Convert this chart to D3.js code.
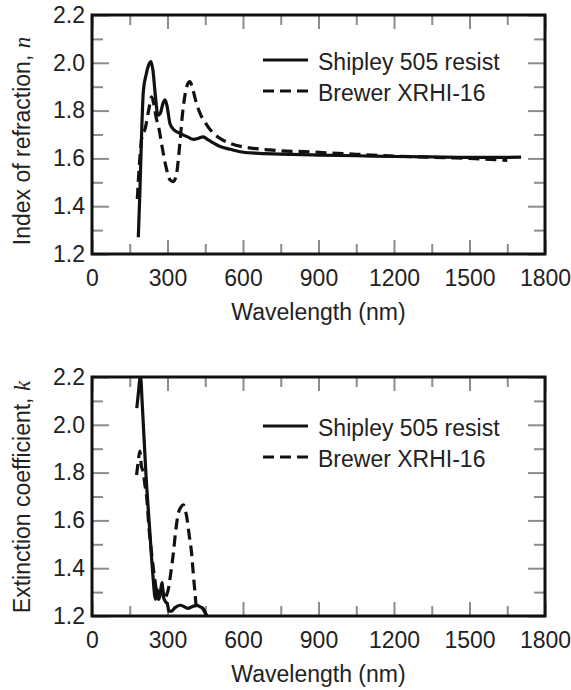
<!DOCTYPE html>
<html>
<head>
<meta charset="utf-8">
<script src="https://cdn.jsdelivr.net/npm/d3@7"></script>
<style>
  body { margin: 0; background: #fff; }
  text { font-family: "Liberation Sans", Arial, Helvetica, sans-serif; fill: #222; }
</style>
</head>
<body>
<div id="chart"></div>
<script>
// data (wavelength in nm)
const shipley_n_wl = [184, 190, 197, 204, 215, 225, 234, 242, 252, 262, 272, 282, 290, 298, 310, 325, 350, 380, 403, 425, 441, 465, 509, 550, 588, 650, 747, 900, 1050, 1200, 1350, 1500, 1600, 1705]
const shipley_n = [1.27, 1.45, 1.70, 1.88, 1.95, 1.99, 2.005, 1.97, 1.86, 1.78, 1.79, 1.83, 1.845, 1.82, 1.745, 1.72, 1.705, 1.69, 1.68, 1.685, 1.69, 1.675, 1.65, 1.638, 1.628, 1.622, 1.618, 1.614, 1.611, 1.608, 1.606, 1.604, 1.604, 1.605]

const brewer_n_wl = [180, 190, 200, 210, 225, 237, 245, 255, 265, 280, 295, 310, 323, 335, 348, 360, 372, 382, 389, 398, 410, 429, 450, 482, 515, 548, 600, 641, 700, 747, 850, 1000, 1200, 1400, 1500, 1600, 1650]
const brewer_n = [1.43, 1.60, 1.70, 1.72, 1.80, 1.858, 1.83, 1.77, 1.73, 1.64, 1.56, 1.51, 1.503, 1.53, 1.65, 1.79, 1.88, 1.915, 1.921, 1.90, 1.85, 1.789, 1.75, 1.705, 1.68, 1.663, 1.648, 1.642, 1.636, 1.632, 1.628, 1.62, 1.61, 1.603, 1.60, 1.595, 1.592]

const shipley_k_wl = [178, 184, 190, 193, 200, 214, 230, 242, 252, 260, 266, 272, 278, 284, 292, 300, 305, 315, 330, 350, 365, 380, 400, 416, 430, 442, 450, 456]
const shipley_k = [2.07, 2.13, 2.19, 2.2, 2.08, 1.80, 1.55, 1.37, 1.27, 1.31, 1.27, 1.30, 1.34, 1.28, 1.26, 1.25, 1.22, 1.22, 1.235, 1.245, 1.24, 1.232, 1.24, 1.245, 1.238, 1.23, 1.215, 1.2]

const brewer_k_wl = [177, 183, 190, 196, 204, 210, 217, 227, 237, 250, 263, 270, 277, 284, 290, 297, 303, 313, 323, 333, 343, 353, 363, 370, 376, 386, 396, 403, 409, 416, 426, 436, 446, 456]
const brewer_k = [1.79, 1.84, 1.89, 1.83, 1.80, 1.75, 1.70, 1.56, 1.46, 1.35, 1.27, 1.30, 1.325, 1.29, 1.27, 1.29, 1.31, 1.38, 1.46, 1.56, 1.63, 1.655, 1.665, 1.645, 1.617, 1.54, 1.46, 1.37, 1.30, 1.23, 1.232, 1.235, 1.22, 1.2]

const x_ticks = [0, 300, 600, 900, 1200, 1500, 1800]
const y_ticks = [1.2, 1.4, 1.6, 1.8, 2.0, 2.2]
const series_names = ["Shipley 505 resist", "Brewer XRHI-16"]

// layout
const width = 571, height = 690
const plot_left = 92, plot_right = 545
const plot_h = 239
const font_tick = 23
const font_title = 23
const dash = "11,6"

const svg = d3.select("#chart")
    .append("svg")
        .attr("width", width)
        .attr("height", height)

function zip(a, b) { return a.map((v, i) => ({ x: v, y: b[i] })) }

function drawPanel(top, solid, dashed, ylabel, ysym, id, title_mid, legend_off) {
    const x = d3.scaleLinear().domain([0, 1800]).range([plot_left, plot_right])
    const y = d3.scaleLinear().domain([1.2, 2.2]).range([top + plot_h, top])
    const g = svg.append("g")

    const minor_x = d3.range(150, 1800, 300)
    const minor_y = [1.3, 1.5, 1.7, 1.9, 2.1]

    // ticks (inward), grey
    const tickStyle = sel => {
        sel.select(".domain").remove()
        sel.selectAll(".tick line").attr("stroke", "#8c8c8c").attr("stroke-width", 2)
        sel.selectAll("text").attr("font-size", font_tick).attr("fill", "#222")
            .attr("font-family", '"Liberation Sans", Arial, sans-serif')
    }

    g.append("g").attr("transform", `translate(0,${top + plot_h})`)
        .call(d3.axisBottom(x).tickValues(x_ticks).tickSize(-14).tickPadding(16).tickFormat(d3.format("d")))
        .call(tickStyle)
    g.append("g").attr("transform", `translate(0,${top + plot_h})`)
        .call(d3.axisBottom(x).tickValues(minor_x).tickSize(-10).tickFormat(""))
        .call(tickStyle)
    g.append("g").attr("transform", `translate(0,${top})`)
        .call(d3.axisTop(x).tickValues(x_ticks).tickSize(-14).tickFormat(""))
        .call(tickStyle)
    g.append("g").attr("transform", `translate(0,${top})`)
        .call(d3.axisTop(x).tickValues(minor_x).tickSize(-10).tickFormat(""))
        .call(tickStyle)

    g.append("g").attr("transform", `translate(${plot_left},0)`)
        .call(d3.axisLeft(y).tickValues(y_ticks).tickSize(-17).tickPadding(7).tickFormat(d3.format(".1f")))
        .call(tickStyle)
    g.append("g").attr("transform", `translate(${plot_left},0)`)
        .call(d3.axisLeft(y).tickValues(minor_y).tickSize(-11).tickFormat(""))
        .call(tickStyle)
    g.append("g").attr("transform", `translate(${plot_right},0)`)
        .call(d3.axisRight(y).tickValues(y_ticks).tickSize(-17).tickFormat(""))
        .call(tickStyle)
    g.append("g").attr("transform", `translate(${plot_right},0)`)
        .call(d3.axisRight(y).tickValues(minor_y).tickSize(-11).tickFormat(""))
        .call(tickStyle)

    // clip
    g.append("clipPath").attr("id", "clip" + id)
        .append("rect")
            .attr("x", plot_left).attr("y", top)
            .attr("width", plot_right - plot_left).attr("height", plot_h)

    const line = d3.line()
        .x(d => x(d.x))
        .y(d => y(d.y))
        .curve(d3.curveMonotoneX)

    g.append("path")
        .datum(dashed)
        .attr("clip-path", `url(#clip${id})`)
        .attr("d", line)
        .attr("fill", "none")
        .attr("stroke", "#111")
        .attr("stroke-width", 3.2)
        .attr("stroke-dasharray", dash)

    g.append("path")
        .datum(solid)
        .attr("clip-path", `url(#clip${id})`)
        .attr("d", line)
        .attr("fill", "none")
        .attr("stroke", "#111")
        .attr("stroke-width", 3.2)
        .attr("stroke-linejoin", "round")

    // frame
    g.append("rect")
        .attr("x", plot_left).attr("y", top)
        .attr("width", plot_right - plot_left).attr("height", plot_h)
        .attr("fill", "none")
        .attr("stroke", "#111")
        .attr("stroke-width", 3)

    // legend
    const leg_x1 = 263, leg_x2 = 308
    const leg_y = [top + legend_off, top + legend_off + 31]
    g.append("line")
        .attr("x1", leg_x1).attr("x2", leg_x2)
        .attr("y1", leg_y[0]).attr("y2", leg_y[0])
        .attr("stroke", "#111").attr("stroke-width", 3.2)
    g.append("line")
        .attr("x1", leg_x1).attr("x2", leg_x2)
        .attr("y1", leg_y[1]).attr("y2", leg_y[1])
        .attr("stroke", "#111").attr("stroke-width", 3.2)
        .attr("stroke-dasharray", dash)
    series_names.forEach((name, i) => {
        g.append("text")
            .attr("x", 318)
            .attr("y", leg_y[i] + 10)
            .attr("font-size", font_title)
            .text(name)
    })

    // axis titles
    g.append("text")
        .attr("x", (plot_left + plot_right) / 2)
        .attr("y", top + plot_h + 66)
        .attr("text-anchor", "middle")
        .attr("font-size", font_title)
        .text("Wavelength (nm)")

    const yt = g.append("text")
        .attr("transform", `translate(30,${top + title_mid}) rotate(-90)`)
        .attr("text-anchor", "middle")
        .attr("font-size", font_title)
    yt.append("tspan").text(ylabel)
    yt.append("tspan")
        .attr("font-family", '"Liberation Serif", "Times New Roman", serif')
        .attr("font-style", "italic")
        .text(ysym)
}

drawPanel(15, zip(shipley_n_wl, shipley_n), zip(brewer_n_wl, brewer_n), "Index of refraction, ", "n", "top", 126, 45)
drawPanel(377, zip(shipley_k_wl, shipley_k), zip(brewer_k_wl, brewer_k), "Extinction coefficient, ", "k", "bottom", 120, 49)
</script>
</body>
</html>
